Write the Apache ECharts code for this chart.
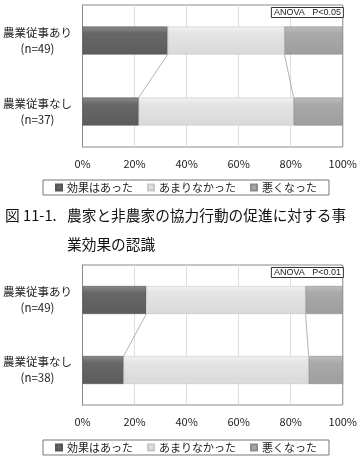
<!DOCTYPE html>
<html>
<head>
<meta charset="utf-8">
<script src="https://cdn.jsdelivr.net/npm/echarts@6/dist/echarts.min.js"></script>
<style>html,body{margin:0;padding:0;background:#fff}#c{width:360px;height:465px}</style>
</head>
<body>
<div id="c"></div>
<script>
const categories = ['農業従事あり', '農業従事なし'];
const sampleSizes1 = [49, 37];
const sampleSizes2 = [49, 38];
const seriesNames = ['効果はあった', 'あまりなかった', '悪くなった'];
const chart1Effective = [32.7, 21.6];
const chart1NotMuch = [44.9, 59.5];
const chart1Worse = [22.4, 18.9];
const chart2Effective = [24.5, 15.8];
const chart2NotMuch = [61.2, 71.1];
const chart2Worse = [14.3, 13.2];
const xTickStep = 20;
const xMax = 100;
const anovaLabels = ['ANOVA   P<0.05', 'ANOVA   P<0.01'];
const captionNumber = '図 11-1.';
const captionLines = ['農家と非農家の協力行動の促進に対する事', '業効果の認識'];

const FONT = '"Noto Sans CJK JP", "Noto Sans", sans-serif';
const BAR_W = 28;
const gridTops = [5, 265];
const gridHeights = [142, 140];
const legendTops = [180, 440];

function grad(c0, c1, c2) {
  return new echarts.graphic.LinearGradient(0, 0, 0, 1, [
    {offset: 0, color: c0}, {offset: 0.25, color: c1}, {offset: 1, color: c2}
  ]);
}
const colors = [
  grad('#8a8a8a', '#676767', '#5c5c5c'),
  grad('#f2f2f2', '#e4e4e4', '#d9d9d9'),
  grad('#bdbdbd', '#a9a9a9', '#9e9e9e')
];
const borderColors = ['#555', '#c8c8c8', '#8c8c8c'];

const datasets = [
  {vals: [chart1Effective, chart1NotMuch, chart1Worse], n: sampleSizes1},
  {vals: [chart2Effective, chart2NotMuch, chart2Worse], n: sampleSizes2}
];

const grids = [], xAxes = [], yAxes = [], series = [], legends = [], titles = [];
datasets.forEach((d, gi) => {
  grids.push({left: 82, right: 12, top: gridTops[gi], height: gridHeights[gi],
    show: true, borderColor: '#8a8a8a', borderWidth: 1, backgroundColor: '#fff'});
  xAxes.push({type: 'value', gridIndex: gi, min: 0, max: xMax, interval: xTickStep,
    axisLine: {show: false}, axisTick: {show: false},
    splitLine: {lineStyle: {color: '#dedede', width: 1}},
    axisLabel: {formatter: '{value}%', fontSize: 11, color: '#222', margin: 11, fontFamily: FONT}});
  yAxes.push({type: 'category', gridIndex: gi, inverse: true, data: categories,
    axisTick: {show: false}, axisLine: {lineStyle: {color: '#8a8a8a'}},
    axisLabel: {margin: 45, fontSize: 11.5, lineHeight: 16, color: '#222', fontFamily: FONT, align: 'center',
      formatter: (v, i) => v + '\n(n=' + d.n[i] + ')'},
  });
  d.vals.forEach((arr, si) => {
    series.push({type: 'bar', name: seriesNames[si], stack: 's' + gi, xAxisIndex: gi, yAxisIndex: gi,
      barWidth: BAR_W, data: arr,
      itemStyle: {color: colors[si], borderColor: borderColors[si], borderWidth: 0.6}});
  });
  const cum1 = d.vals[0];
  const cum2 = d.vals[0].map((v, i) => v + d.vals[1][i]);
  series.push({type: 'custom', xAxisIndex: gi, yAxisIndex: gi, silent: true, z: 1,
    encode: {x: [0, 1], y: [2, 3]},
    data: [[cum1[0], cum1[1], 0, 1], [cum2[0], cum2[1], 0, 1]],
    renderItem: (params, api) => {
      const a = api.coord([api.value(0), api.value(2)]);
      const b = api.coord([api.value(1), api.value(3)]);
      return {type: 'line', shape: {x1: a[0], y1: a[1] + BAR_W / 2, x2: b[0], y2: b[1] - BAR_W / 2},
        style: {stroke: '#a0a0a0', lineWidth: 0.8}};
    }});
  legends.push({top: legendTops[gi], left: 43, data: seriesNames, icon: 'rect', itemWidth: 6, itemHeight: 6,
    itemGap: 14, borderColor: '#777', borderWidth: 1, padding: [2, 12, 2, 12],
    textStyle: {fontSize: 11, color: '#222', fontFamily: FONT}, selectedMode: false});
  titles.push({text: anovaLabels[gi], right: 16, top: gridTops[gi] + 2, padding: [1, 3, 1, 3],
    borderColor: '#333', borderWidth: 1, backgroundColor: '#fff',
    textStyle: {fontSize: 9, fontWeight: 'normal', color: '#222', fontFamily: 'Liberation Sans, sans-serif'}});
});

const chart = echarts.init(document.getElementById('c'), null, {renderer: 'canvas'});
chart.setOption({
  animation: false,
  title: titles,
  grid: grids, xAxis: xAxes, yAxis: yAxes, series: series, legend: legends,
  graphic: [
    {type: 'text', left: 5, top: 208, style: {text: captionNumber, fill: '#111', font: '14.7px ' + FONT}},
    {type: 'text', left: 67, top: 208, style: {text: captionLines[0], fill: '#111', font: '14.7px ' + FONT}},
    {type: 'text', left: 67, top: 237, style: {text: captionLines[1], fill: '#111', font: '14.7px ' + FONT}}
  ]
});
</script>
</body>
</html>
